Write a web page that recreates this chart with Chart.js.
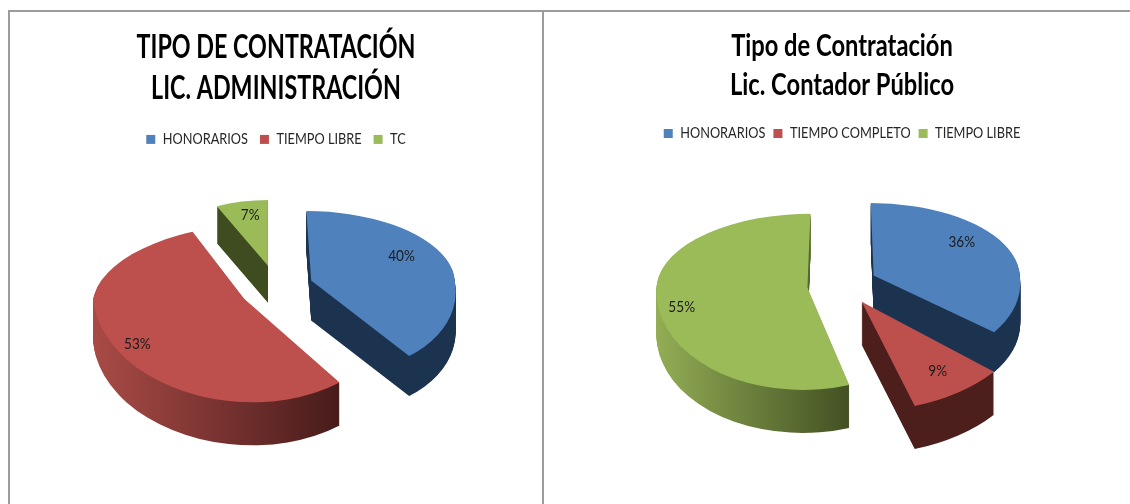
<!DOCTYPE html>
<html lang="es">
<head>
<meta charset="utf-8">
<script src="https://cdn.jsdelivr.net/npm/chart.js@4"></script>
<style>
html,body{margin:0;padding:0;background:#fff;width:1130px;height:504px;overflow:hidden}
.rule{position:absolute;background:#9c9c9c}
.box{position:absolute;top:12px;height:492px}
canvas{display:block;filter:blur(0.35px)}
</style>
</head>
<body>
<div class="rule" style="left:8px;right:0;top:10px;height:2px"></div>
<div class="rule" style="left:8px;top:10px;width:2px;height:494px"></div>
<div class="rule" style="left:542px;top:10px;width:2px;height:494px"></div>
<div class="box" style="left:10px;width:532px"><canvas id="admin"></canvas></div>
<div class="box" style="left:544px;width:586px"><canvas id="contador"></canvas></div>
<script>
const adminTitle = ['TIPO DE CONTRATACIÓN', 'LIC. ADMINISTRACIÓN'];
const adminCategories = ['HONORARIOS', 'TIEMPO LIBRE', 'TC'];
const adminValues = [40, 53, 7];

const contadorTitle = ['Tipo de Contratación', 'Lic. Contador Público'];
const contadorCategories = ['HONORARIOS', 'TIEMPO COMPLETO', 'TIEMPO LIBRE'];
const contadorValues = [36, 9, 55];

const BLUE = '#4f81bd', RED = '#bd4f4c', GREEN = '#9bbb59';
const adminColors = [BLUE, RED, GREEN];
const adminWalls = [['#1c3350', '#1c3350'], ['#a84a46', '#471b1a'], ['#3f4c20', '#3f4c20']];
const contadorColors = [BLUE, RED, GREEN];
const contadorWalls = [['#1c3350', '#1c3350'], ['#4c1e1c', '#4c1e1c'], ['#93ae55', '#435123']];

// The reference's Calibri-like type is narrower than Lato, so canvas text is condensed horizontally.
function condenseText(ctx, titleFactor) {
  const fill = ctx.fillText.bind(ctx), measure = ctx.measureText.bind(ctx);
  const factor = () => /bold|700/.test(ctx.font) ? titleFactor : 0.85;
  ctx.fillText = (t, x, y) => {
    const f = factor();
    ctx.save();
    ctx.translate(x, y);
    ctx.scale(f, 1);
    fill(t, 0, 0);
    ctx.restore();
  };
  ctx.measureText = t => ({width: measure(t).width * factor()});
}

const pie3d = {
  id: 'pie3d',
  beforeDatasetDraw() { return false; },
  afterDatasetsDraw(chart, args, o) {
    const ctx = chart.ctx, arcs = chart.getDatasetMeta(0).data;
    const W = chart.width, H = chart.height;
    const geom = arc => {
      const mid = (arc.startAngle + arc.endAngle) / 2;
      return {mid, R: arc.outerRadius, ax: arc.x + Math.cos(mid) * o.explode, ay: arc.y + Math.sin(mid) * o.explode * o.explodeSquash};
    };
    const paint = (arc, g, i, dy, fill) => {
      const saved = arc.options;
      arc.options = {backgroundColor: fill, borderColor: fill, borderWidth: 0, borderAlign: 'center',
        offset: 0, spacing: 0, circular: true, borderRadius: 0, borderDash: [], borderDashOffset: 0, borderJoinStyle: 'round'};
      const Y = Math.round(g.ay + dy);
      [[0, Y + 0.5, o.far[i], o.shearFar[i]], [Y - 0.5, H - Y + 0.5, o.near[i], o.shearNear[i]]].forEach(([top, h, k, shear]) => {
        ctx.save();
        ctx.beginPath();
        ctx.rect(0, top, W, h);
        ctx.clip();
        ctx.translate(g.ax, g.ay + dy);
        ctx.transform(1, 0, shear, 1, 0, 0);
        ctx.scale(o.widen[i], k);
        ctx.translate(-arc.x, -arc.y);
        arc.draw(ctx);
        ctx.restore();
      });
      arc.options = saved;
    };
    o.order.forEach(i => {
      const arc = arcs[i], g = geom(arc);
      const x1 = arc.x + g.R * Math.max(Math.cos(arc.startAngle), Math.cos(arc.endAngle));
      const grad = ctx.createLinearGradient(arc.x - g.R, 0, x1, 0);
      grad.addColorStop(0, o.walls[i][0]);
      grad.addColorStop(1, o.walls[i][1]);
      for (let dy = o.depth[i]; dy >= 1; dy--) paint(arc, g, i, dy, grad);
      paint(arc, g, i, 0, o.colors[i]);
    });
    ctx.save();
    ctx.font = '16px Lato';
    ctx.fillStyle = '#1c1c1c';
    ctx.textAlign = 'center';
    ctx.textBaseline = 'middle';
    o.order.forEach(i => {
      const arc = arcs[i], g = geom(arc);
      const f = o.labelRadius[i], sy = Math.sin(g.mid);
      const x = g.ax + Math.cos(g.mid) * g.R * f * o.widen[i] + o.labelNudge[i][0];
      const y = g.ay + sy * g.R * f * (sy < 0 ? o.far[i] : o.near[i]) + o.labelNudge[i][1];
      ctx.fillText(chart.data.datasets[0].data[i] + '%', x, y);
    });
    ctx.restore();
  }
};

function makeChart(id, title, titleSize, titleLine, cats, vals, colors, walls, cfg) {
  const canvas = document.getElementById(id);
  condenseText(canvas.getContext('2d'), cfg.titleCondense);
  new Chart(canvas, {
    type: 'pie',
    plugins: [pie3d],
    data: {labels: cats, datasets: [{data: vals, backgroundColor: colors, borderWidth: 0}]},
    options: {
      responsive: true,
      maintainAspectRatio: false,
      animation: false,
      rotation: 0,
      radius: 148,
      layout: {padding: cfg.padding},
      plugins: {
        tooltip: {enabled: false},
        title: {display: true, text: title, color: '#000',
          font: {family: 'Lato', weight: 'bold', size: titleSize, lineHeight: titleLine},
          padding: cfg.titlePadding},
        legend: {position: 'top', labels: {boxWidth: 9, boxHeight: 9, padding: cfg.legendGap, color: '#262626',
          font: {family: 'Lato', size: 15}}},
        pie3d: {colors, walls, order: cfg.order, explode: cfg.explode, explodeSquash: 0.6, depth: cfg.depth,
          labelRadius: cfg.labelRadius, labelNudge: cfg.labelNudge, far: cfg.far, near: cfg.near, widen: cfg.widen,
          shearFar: cfg.shearFar, shearNear: cfg.shearNear}
      }
    }
  });
}

makeChart('admin', adminTitle, 32, 1.28, adminCategories, adminValues, adminColors, adminWalls,
  {padding: {bottom: 86}, titlePadding: {top: 15, bottom: 11}, titleCondense: 0.728, legendGap: 12, order: [2, 0, 1], explode: 37,
   depth: [40, 43, 37],
   labelRadius: [0.72, 0.86, 0.6], labelNudge: [[-8, -9], [5, 0], [-2, -12]],
   far: [0.47, 0.5, 0.445], near: [0.63, 0.7, 0.6], widen: [0.97, 1.02, 0.81],
   shearFar: [0.07, -0.19, 0], shearNear: [0.18, 0.08, 0]});
makeChart('contador', contadorTitle, 30, 1.3, contadorCategories, contadorValues, contadorColors, contadorWalls,
  {padding: {left: 10, bottom: 86}, titlePadding: {top: 15, bottom: 13}, titleCondense: 0.79, legendGap: 8, order: [2, 0, 1], explode: 35,
   depth: [40, 43, 43],
   labelRadius: [0.75, 0.86, 0.87], labelNudge: [[-11, -11], [-7, -9], [4, 5]],
   far: [0.49, 0.5, 0.5], near: [0.6, 0.74, 0.69], widen: [0.987, 1.16, 1.02],
   shearFar: [0.04, 0, -0.04], shearNear: [0.14, 0, -0.05]});
</script>
</body>
</html>
